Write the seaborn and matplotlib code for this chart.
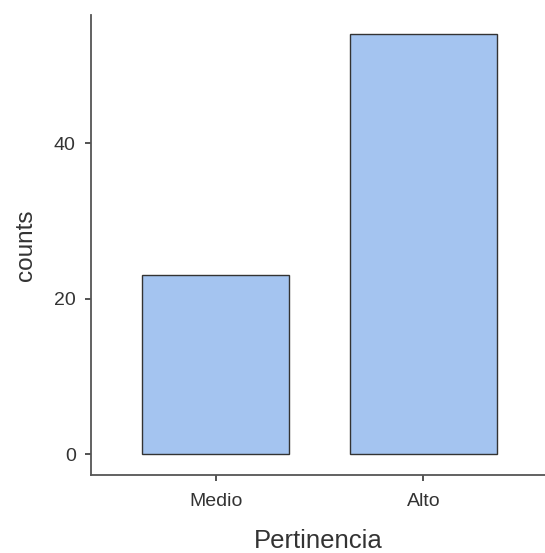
import matplotlib
matplotlib.use("Agg")
import matplotlib.pyplot as plt
import seaborn as sns
import pandas as pd

categories = ["Medio", "Alto"]
counts = [23, 54]
yticks = [0, 20, 40]

sns.set_theme(style="ticks")
plt.rcParams['font.family'] = ['Liberation Sans', 'DejaVu Sans']

df = pd.DataFrame({"Pertinencia": categories, "counts": counts})

fig = plt.figure(figsize=(5.45, 5.53), dpi=100)
ax = fig.add_axes([91/545, 1-475/553, 1-91/545, (475-15)/553])
sns.barplot(data=df, x="Pertinencia", y="counts", order=categories,
            color="#A4C4F0", saturation=1, width=0.707,
            edgecolor="#333333", linewidth=1.0, ax=ax)
ax.set_xlim(-0.6, 1.585)
ax.set_ylim(-2.7, 56.5)
ax.set_yticks(yticks)
for s in ["top", "right"]:
    ax.spines[s].set_visible(False)
for s in ["left", "bottom"]:
    ax.spines[s].set_color("#555555")
    ax.spines[s].set_linewidth(1.3)
ax.tick_params(axis="both", colors="#444444", labelcolor="#333333", labelsize=14,
               length=4, width=1.3)
ax.tick_params(axis="x", pad=9)
ax.tick_params(axis="y", pad=7)
ax.set_xlabel("Pertinencia", fontsize=18.5, color="#333333", labelpad=14)
ax.set_ylabel("counts", fontsize=17.5, color="#333333", labelpad=12)
fig.savefig("out.png", dpi=100)
